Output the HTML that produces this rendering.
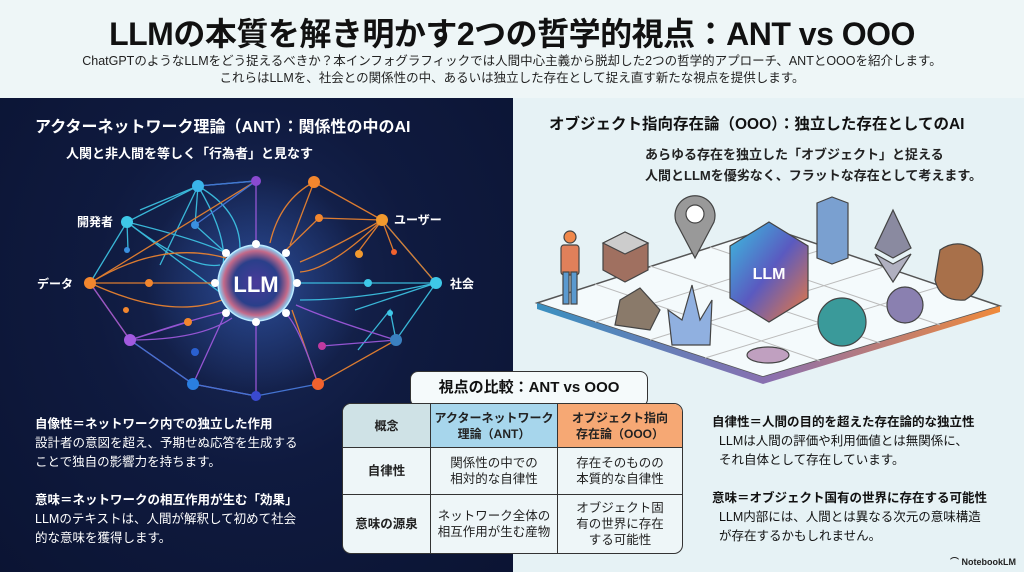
<!DOCTYPE html>
<html><head><meta charset="utf-8"><style>
*{margin:0;padding:0;box-sizing:border-box}
body{width:1024px;height:572px;overflow:hidden;background:#e8f3f6;font-family:"Liberation Sans","Noto Sans CJK JP",sans-serif;position:relative}
.a{position:absolute;white-space:nowrap}
.b{font-weight:bold}
</style></head><body>
<div class="a" style="left:0;top:0;width:1024px;height:98px;background:#eef6f7"></div>
<div class="a b" style="left:0;top:9px;width:1024px;text-align:center;font-size:32px;color:#111;letter-spacing:-0.5px">LLMの本質を解き明かす2つの哲学的視点：ANT vs OOO</div>
<div class="a" style="left:0;top:53px;width:1024px;text-align:center;font-size:12.5px;color:#222;line-height:17px">ChatGPTのようなLLMをどう捉えるべきか？本インフォグラフィックでは人間中心主義から脱却した2つの哲学的アプローチ、ANTとOOOを紹介します。<br>これらはLLMを、社会との関係性の中、あるいは独立した存在として捉え直す新たな視点を提供します。</div>

<div class="a" style="left:0;top:98px;width:513px;height:474px;background:radial-gradient(ellipse at 50% 40%,#1a2a5a 0%,#0f1a3f 45%,#0b1433 100%)"></div>
<div class="a" style="left:513px;top:98px;width:511px;height:474px;background:#e6f2f5"></div>

<svg class="a" style="left:0;top:98px" width="513" height="310" viewBox="0 98 513 310">
<defs><radialGradient id="g1"><stop offset="0" stop-color="#4a3a9a"/><stop offset=".6" stop-color="#2a3f8a"/><stop offset=".85" stop-color="#c46a8a"/><stop offset="1" stop-color="#7fd8ff"/></radialGradient>
<radialGradient id="glow"><stop offset="0" stop-color="#3b6bd0" stop-opacity=".5"/><stop offset="1" stop-color="#3b6bd0" stop-opacity="0"/></radialGradient></defs>
<circle cx="256" cy="283" r="110" fill="url(#glow)"/>
<g fill="none" stroke-width="1.3" opacity=".9">
<g stroke="#3ec8e8">
<path d="M127 222 L198 186 L256 181"/><path d="M127 222 Q200 240 226 253"/><path d="M127 222 Q190 270 220 265"/><path d="M198 186 L195 225 L226 253"/><path d="M198 186 Q240 210 240 248"/><path d="M127 222 L90 283"/><path d="M127 222 L128 250"/><path d="M198 186 L160 265"/><path d="M436 283 L368 283 L298 283"/><path d="M436 283 L396 340"/><path d="M436 283 L355 310"/><path d="M436 283 L382 220"/><path d="M396 340 L390 310 L358 350"/><path d="M127 222 L230 300"/><path d="M198 186 L140 210"/><path d="M436 283 Q360 300 300 300"/><path d="M198 186 Q230 240 222 270"/>
</g>
<g stroke="#f2862e">
<path d="M314 182 L382 220 L319 218"/><path d="M314 182 L290 245"/><path d="M314 182 Q280 200 270 243"/><path d="M382 220 L358 252"/><path d="M382 220 L436 283"/><path d="M382 220 L394 252"/><path d="M90 283 L149 283 L214 283"/><path d="M90 283 Q160 240 226 258"/><path d="M90 283 Q170 320 222 300"/><path d="M90 283 L130 340"/><path d="M319 218 L286 250"/><path d="M318 384 L292 310"/><path d="M318 384 L396 340"/><path d="M382 220 Q330 250 300 262"/><path d="M90 283 L256 181"/><path d="M382 220 Q330 270 300 272"/>
</g>
<g stroke="#a25ae0">
<path d="M130 340 L193 384 L256 396"/><path d="M130 340 Q190 320 224 312"/><path d="M130 340 Q200 340 232 318"/><path d="M130 340 L188 322"/><path d="M256 396 L256 323"/><path d="M256 181 L256 243"/><path d="M318 384 Q300 330 288 316"/><path d="M396 340 Q330 320 296 305"/><path d="M130 340 L90 283"/><path d="M193 384 L226 312"/><path d="M396 340 L322 346"/>
</g>
<g stroke="#4a7de0"><path d="M198 186 L256 181"/><path d="M193 384 L130 340"/><path d="M256 181 L195 225"/><path d="M193 384 L256 396 L318 384"/></g>
</g>
<circle cx="256" cy="283" r="40" fill="url(#glow)"/>
<circle cx="256" cy="283" r="38" fill="url(#g1)" stroke="#bfeaff" stroke-width="1.5"/>
<text x="256" y="292" text-anchor="middle" font-family="Liberation Sans" font-weight="bold" font-size="22" fill="#fff">LLM</text>
<g fill="#fff"><circle cx="256" cy="244" r="4"/><circle cx="226" cy="253" r="4"/><circle cx="286" cy="253" r="4"/><circle cx="215" cy="283" r="4"/><circle cx="297" cy="283" r="4"/><circle cx="226" cy="313" r="4"/><circle cx="286" cy="313" r="4"/><circle cx="256" cy="322" r="4"/></g>
<g><circle cx="198" cy="186" r="6" fill="#3ab5ea"/><circle cx="256" cy="181" r="5" fill="#8a4ad0"/><circle cx="314" cy="182" r="6" fill="#f2862e"/>
<circle cx="127" cy="222" r="6" fill="#3ec8e8"/><circle cx="382" cy="220" r="6" fill="#f29a2e"/><circle cx="90" cy="283" r="6" fill="#f2862e"/><circle cx="436" cy="283" r="6" fill="#3ec8e8"/>
<circle cx="130" cy="340" r="6" fill="#a25ae0"/><circle cx="396" cy="340" r="6" fill="#3a80c0"/><circle cx="193" cy="384" r="6" fill="#2a7ee0"/><circle cx="318" cy="384" r="6" fill="#f2622e"/><circle cx="256" cy="396" r="5" fill="#3a4ad0"/>
<circle cx="195" cy="225" r="4" fill="#3a90e0"/><circle cx="319" cy="218" r="4" fill="#f2862e"/><circle cx="149" cy="283" r="4" fill="#f2862e"/><circle cx="368" cy="283" r="4" fill="#3ec8e8"/><circle cx="359" cy="254" r="4" fill="#f29a2e"/><circle cx="188" cy="322" r="4" fill="#f2862e"/><circle cx="127" cy="250" r="3" fill="#3a90e0"/><circle cx="394" cy="252" r="3" fill="#f2622e"/><circle cx="390" cy="313" r="3" fill="#3ec8e8"/><circle cx="126" cy="310" r="3" fill="#f2862e"/><circle cx="322" cy="346" r="4" fill="#c03aa0"/><circle cx="195" cy="352" r="4" fill="#2a60d0"/></g>
<g font-family="Liberation Sans,Noto Sans CJK JP" font-weight="bold" font-size="12" fill="#fff"><text x="77" y="226">開発者</text><text x="394" y="224">ユーザー</text><text x="37" y="288">データ</text><text x="450" y="288">社会</text></g>
</svg>
<div class="a b" style="left:35px;top:113px;font-size:16px;color:#fff">アクターネットワーク理論（ANT）：関係性の中のAI</div>
<div class="a b" style="left:66px;top:143px;font-size:13px;color:#fff">人関と非人間を等しく「行為者」と見なす</div>
<div class="a" style="left:35px;top:415px;font-size:12.5px;color:#fff;line-height:19px"><b>自像性＝ネットワーク内での独立した作用</b><br>設計者の意図を超え、予期せぬ応答を生成する<br>ことで独自の影響力を持ちます。<br><br><b>意味＝ネットワークの相互作用が生む「効果」</b><br>LLMのテキストは、人間が解釈して初めて社会<br>的な意味を獲得します。</div>

<div class="a b" style="left:549px;top:112px;font-size:15.5px;color:#111">オブジェクト指向存在論（OOO）：独立した存在としてのAI</div>
<div class="a b" style="left:645px;top:144px;font-size:13px;color:#222;line-height:21px">あらゆる存在を独立した「オブジェクト」と捉える<br>人間とLLMを優劣なく、フラットな存在として考えます。</div>
<svg class="a" style="left:513px;top:180px" width="511" height="210" viewBox="513 180 511 210">
<defs><linearGradient id="p" x1="0" x2="1"><stop offset="0" stop-color="#3a90c0"/><stop offset=".5" stop-color="#8a70b0"/><stop offset="1" stop-color="#f08a3a"/></linearGradient>
<linearGradient id="h" x1="0" y1="0" x2="1" y2="1"><stop offset="0" stop-color="#3ac0e0"/><stop offset=".5" stop-color="#5a5ac0"/><stop offset="1" stop-color="#f07a3a"/></linearGradient></defs>
<polygon points="537,303 770,228 1000,306 763,377" fill="#f4fafc" stroke="#555" stroke-width="1.5"/>
<polygon points="537,303 763,377 1000,306 1000,312 763,384 537,309" fill="url(#p)"/>
<g stroke="#bbb" fill="none"><line x1="595" y1="284" x2="820" y2="361"/><line x1="650" y1="266" x2="880" y2="343"/><line x1="710" y1="247" x2="940" y2="325"/><line x1="595" y1="322" x2="830" y2="247"/><line x1="650" y1="340" x2="890" y2="265"/><line x1="705" y1="358" x2="945" y2="285"/></g>
<g stroke="#444" stroke-width="1.2">
<circle cx="570" cy="237" r="6" fill="#f0884a"/><rect x="561" y="245" width="18" height="30" rx="3" fill="#e0805a"/><rect x="563" y="272" width="6" height="32" fill="#5a9ad0"/><rect x="571" y="272" width="6" height="32" fill="#5a9ad0"/>
<polygon points="603,243 625,232 648,243 648,270 625,282 603,270" fill="#a07060"/><polygon points="603,243 625,232 648,243 625,254" fill="#ccc"/>
<path d="M695 258 L676 222 A20 20 0 1 1 714 222 Z" fill="#999"/><circle cx="695" cy="214" r="9" fill="#fff"/>
<polygon points="769,222 808,246 808,298 769,322 730,298 730,246" fill="url(#h)"/>
<polygon points="817,203 832,197 848,203 848,258 832,264 817,258" fill="#7aa0d0"/>
<polygon points="893,210 875,248 893,258 911,248" fill="#8a8aa0"/><polygon points="875,254 893,282 911,254 893,264" fill="#b0b0c0"/>
<path d="M940 250 Q960 236 980 254 Q990 285 965 300 Q940 302 935 280 Z" fill="#a8704a"/>
<circle cx="842" cy="322" r="24" fill="#3a9a9a"/><circle cx="905" cy="305" r="18" fill="#8a80b0"/>
<polygon points="620,300 640,288 660,310 650,330 615,325" fill="#8a7a6a"/>
<polygon points="682,320 692,285 700,320 712,300 710,345 672,345 668,310" fill="#90b0e0"/>
<ellipse cx="768" cy="355" rx="21" ry="8" fill="#c0a0c0"/>
</g>
<text x="769" y="279" text-anchor="middle" font-family="Liberation Sans" font-weight="bold" font-size="16" fill="#fff">LLM</text>
</svg>

<div class="a" style="left:410px;top:371px;width:238px;height:36px;background:#f5fafb;border:1.5px solid #333;border-radius:8px"></div>
<div class="a b" style="left:410px;top:376px;width:238px;text-align:center;font-size:15px;color:#111">視点の比較：ANT vs OOO</div>
<table class="a" style="left:342px;top:403px;width:341px;border-collapse:separate;border-spacing:0;border:1.5px solid #333;border-radius:9px;overflow:hidden;font-size:12.5px;text-align:center;color:#222;line-height:16px;background:#eef6f8">
<tr style="height:44px;font-weight:bold;font-size:12px"><td style="width:88px;background:#cfe2e6;border-right:1px solid #333;border-bottom:1px solid #333">概念</td><td style="width:127px;background:#a7d6ec;border-right:1px solid #333;border-bottom:1px solid #333">アクターネットワーク<br>理論（ANT）</td><td style="background:#f6a874;border-bottom:1px solid #333">オブジェクト指向<br>存在論（OOO）</td></tr>
<tr style="height:47px"><td style="font-weight:bold;border-right:1px solid #333;border-bottom:1px solid #333">自律性</td><td style="border-right:1px solid #333;border-bottom:1px solid #333">関係性の中での<br>相対的な自律性</td><td style="border-bottom:1px solid #333">存在そのものの<br>本質的な自律性</td></tr>
<tr style="height:58px"><td style="font-weight:bold;border-right:1px solid #333">意味の源泉</td><td style="border-right:1px solid #333">ネットワーク全体の<br>相互作用が生む産物</td><td>オブジェクト固<br>有の世界に存在<br>する可能性</td></tr>
</table>

<div class="a" style="left:712px;top:413px;font-size:12.5px;color:#111;line-height:19px"><b>自律性＝人間の目的を超えた存在論的な独立性</b><br>&nbsp;&nbsp;LLMは人間の評価や利用価値とは無関係に、<br>&nbsp;&nbsp;それ自体として存在しています。<br><br><b>意味＝オブジェクト国有の世界に存在する可能性</b><br>&nbsp;&nbsp;LLM内部には、人間とは異なる次元の意味構造<br>&nbsp;&nbsp;が存在するかもしれません。</div>
<div class="a b" style="left:950px;top:555px;font-size:9px;color:#222">⌒ NotebookLM</div>
</body></html>
